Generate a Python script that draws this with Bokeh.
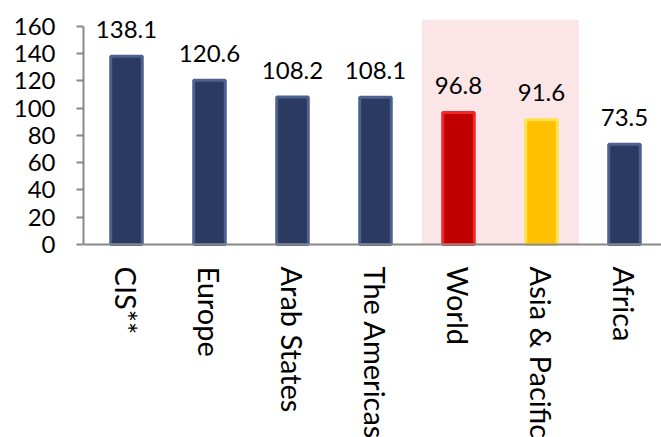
import math
from bokeh.plotting import figure
from bokeh.models import Range1d, FixedTicker, Span
from bokeh.core.properties import value
from bokeh.embed import file_html
from bokeh.resources import INLINE

# ---- data ----
categories = ["CIS**", "Europe", "Arab States", "The Americas", "World", "Asia & Pacific", "Africa"]
values = [138.1, 120.6, 108.2, 108.1, 96.8, 91.6, 73.5]
value_labels = ["138.1", "120.6", "108.2", "108.1", "96.8", "91.6", "73.5"]
y_ticks = [0, 20, 40, 60, 80, 100, 120, 140, 160]
highlighted = ["World", "Asia & Pacific"]

# ---- styles ----
navy_fill, navy_edge = "#2B3A60", "#4D6191"
red_fill, red_edge = "#C00000", "#F02828"
gold_fill, gold_edge = "#FFC000", "#FFE24A"
fills, edges = [], []
for c in categories:
    if c == "World":
        fills.append(red_fill); edges.append(red_edge)
    elif c == "Asia & Pacific":
        fills.append(gold_fill); edges.append(gold_edge)
    else:
        fills.append(navy_fill); edges.append(navy_edge)

xs = [i + 0.5 for i in range(len(categories))]
zeros = [0] * len(xs)

y_top = 165.1
y_bottom = -141.6
p = figure(width=661, height=437, output_backend="svg", toolbar_location=None,
           x_range=Range1d(-0.018, 6.946), y_range=Range1d(y_bottom, y_top),
           x_axis_location=None,
           min_border_left=83, min_border_right=0, min_border_top=19, min_border_bottom=0)
p.outline_line_color = None
p.xgrid.visible = False
p.ygrid.visible = False
p.background_fill_color = "white"

# highlight band behind World and Asia & Pacific
i0 = categories.index(highlighted[0])
i1 = categories.index(highlighted[-1])
p.quad(left=[i0 + 0.5 - 0.44], right=[i1 + 0.5 + 0.45], bottom=[0], top=[y_top],
       fill_color="#FBE5E6", line_color=None)

p.vbar(x=xs, top=values, bottom=0, width=0.38,
       fill_color=fills, line_color=edges, line_width=3)

# baseline (category axis line)
p.add_layout(Span(location=0, dimension="width", line_color="#888888", line_width=2))

font = value("Lato")
p.text(x=xs, y=values, text=value_labels, text_align="center",
       text_baseline="alphabetic", y_offset=-27, text_font=font,
       text_font_size="24px", text_color="black")

p.text(x=xs, y=zeros, text=categories, angle=-math.pi / 2,
       text_align="left", text_baseline="middle", y_offset=22,
       text_font=font, text_font_size="29px", text_color="black")

ax = p.yaxis[0]
ax.ticker = FixedTicker(ticks=y_ticks)
ax.bounds = (y_ticks[0], y_ticks[-1])
ax.axis_line_color = "#888888"
ax.axis_line_width = 2
ax.major_tick_line_color = "#888888"
ax.major_tick_line_width = 2
ax.major_tick_out = 7
ax.major_tick_in = 0
ax.minor_tick_line_color = None
ax.major_label_text_font = "Lato"
ax.major_label_text_font_size = "24px"
ax.major_label_text_color = "black"
ax.major_label_standoff = 21

open("out.html", "w").write(file_html(p, INLINE))
